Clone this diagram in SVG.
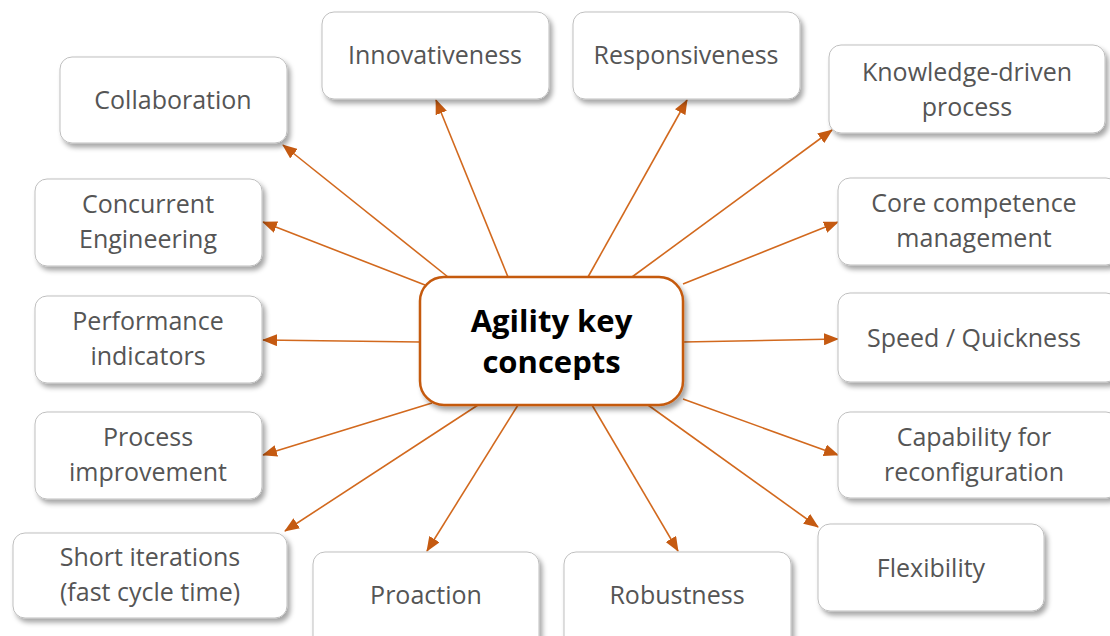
<svg xmlns="http://www.w3.org/2000/svg" width="1110" height="636" viewBox="0 0 1110 636">
<defs>
<filter id="sh" x="-10%" y="-10%" width="125%" height="135%">
<feDropShadow dx="3" dy="4" stdDeviation="2.5" flood-color="#000" flood-opacity="0.35"/>
</filter>
<marker id="ah" viewBox="0 0 15 12" refX="14" refY="6" markerWidth="15" markerHeight="12" markerUnits="userSpaceOnUse" orient="auto">
<path d="M0,0 L15,6 L0,12 Z" fill="#C55A11"/>
</marker>
<style>
.box{fill:#fff;stroke:#BFBFBF;stroke-width:1;filter:url(#sh)}
.t{font-family:"Open Sans","Liberation Sans",sans-serif;font-size:25px;fill:#555;text-anchor:middle}
.c{font-family:"Open Sans","Liberation Sans",sans-serif;font-size:31px;font-weight:bold;fill:#000;text-anchor:middle}
.ln{stroke:#D2691E;stroke-width:1.6;fill:none;marker-end:url(#ah)}
</style>
</defs>
<rect width="1110" height="636" fill="#fff"/>
<g id="connectors">
<line class="ln" x1="448" y1="277" x2="283" y2="145"/>
<line class="ln" x1="508" y1="277" x2="436" y2="100"/>
<line class="ln" x1="588" y1="277" x2="687" y2="100"/>
<line class="ln" x1="632" y1="277" x2="832" y2="130"/>
<line class="ln" x1="425" y1="285" x2="263" y2="222"/>
<line class="ln" x1="683" y1="284" x2="838" y2="222"/>
<line class="ln" x1="420" y1="342" x2="263" y2="340"/>
<line class="ln" x1="683" y1="342" x2="838" y2="339"/>
<line class="ln" x1="432" y1="403" x2="263" y2="455"/>
<line class="ln" x1="683" y1="399" x2="838" y2="455"/>
<line class="ln" x1="478" y1="405" x2="285" y2="531"/>
<line class="ln" x1="518" y1="405" x2="427" y2="551"/>
<line class="ln" x1="592" y1="405" x2="678" y2="551"/>
<line class="ln" x1="648" y1="405" x2="818" y2="527"/>
</g>
<g id="center">
<rect x="420" y="277" width="263" height="128" rx="24" fill="#fff" stroke="#C55A11" stroke-width="2.5" filter="url(#sh)"/>
<text class="c" x="551.5" y="332">Agility key</text>
<text class="c" x="551.5" y="373">concepts</text>
</g>
<g id="collaboration"><rect class="box" x="60" y="57" width="227" height="86" rx="12"/><text class="t" x="173" y="109">Collaboration</text></g>
<g id="innovativeness"><rect class="box" x="322" y="12" width="227" height="87" rx="12"/><text class="t" x="435" y="64">Innovativeness</text></g>
<g id="responsiveness"><rect class="box" x="573" y="12" width="227" height="87" rx="12"/><text class="t" x="686" y="64">Responsiveness</text></g>
<g id="knowledge"><rect class="box" x="829" y="45" width="276" height="88" rx="12"/><text class="t" x="967" y="81">Knowledge-driven</text><text class="t" x="967" y="116">process</text></g>
<g id="concurrent"><rect class="box" x="35" y="179" width="227" height="87" rx="12"/><text class="t" x="148" y="213">Concurrent</text><text class="t" x="148" y="248">Engineering</text></g>
<g id="core"><rect class="box" x="838" y="178" width="280" height="87" rx="12"/><text class="t" x="974" y="212">Core competence</text><text class="t" x="974" y="247">management</text></g>
<g id="performance"><rect class="box" x="35" y="296" width="227" height="87" rx="12"/><text class="t" x="148" y="330">Performance</text><text class="t" x="148" y="365">indicators</text></g>
<g id="speed"><rect class="box" x="838" y="293" width="280" height="89" rx="12"/><text class="t" x="974" y="347">Speed / Quickness</text></g>
<g id="process"><rect class="box" x="35" y="412" width="227" height="87" rx="12"/><text class="t" x="148" y="446">Process</text><text class="t" x="148" y="481">improvement</text></g>
<g id="capability"><rect class="box" x="838" y="412" width="280" height="86" rx="12"/><text class="t" x="974" y="446">Capability for</text><text class="t" x="974" y="481">reconfiguration</text></g>
<g id="short"><rect class="box" x="13" y="533" width="274" height="85" rx="12"/><text class="t" x="150" y="566">Short iterations</text><text class="t" x="150" y="601">(fast cycle time)</text></g>
<g id="proaction"><rect class="box" x="313" y="552" width="226" height="100" rx="12"/><text class="t" x="426" y="604">Proaction</text></g>
<g id="robustness"><rect class="box" x="564" y="552" width="227" height="100" rx="12"/><text class="t" x="677" y="604">Robustness</text></g>
<g id="flexibility"><rect class="box" x="818" y="524" width="226" height="87" rx="12"/><text class="t" x="931" y="577">Flexibility</text></g>
</svg>
